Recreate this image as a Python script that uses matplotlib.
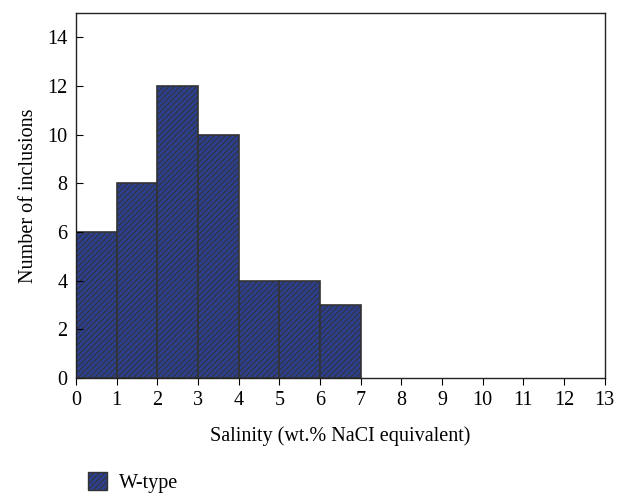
import numpy as np
import matplotlib.pyplot as plt
from matplotlib.patches import Patch

plt.rcParams['font.family'] = ['Liberation Serif', 'DejaVu Serif']
plt.rcParams['hatch.color'] = '#8c8c8c'
plt.rcParams['hatch.linewidth'] = 0.7

# Salinity bins (wt.% NaCl equiv.) and counts
bin_left = [0, 1, 2, 3, 4, 5, 6]
counts = [6, 8, 12, 10, 4, 4, 3]

fig = plt.figure(figsize=(6.28, 5.01), dpi=100)
ax = fig.add_axes([0.121, 0.2455, 0.842, 0.7285])

ax.bar(bin_left, counts, width=1, align='edge', color='#2c3f8c',
       edgecolor='#333333', linewidth=1.2, hatch='//////')

ax.set_xlim(0, 13)
ax.set_ylim(0, 15)
ax.set_xticks(np.arange(0, 14))
ax.set_yticks(np.arange(0, 15, 2))
ax.tick_params(axis='x', direction='out', length=5, labelsize=14.5, top=False, pad=4)
ax.tick_params(axis='y', direction='in', length=5, labelsize=14.5, right=False, pad=6)
for s in ax.spines.values():
    s.set_color('#222222')
    s.set_linewidth(1.0)

ax.set_xlabel('Salinity (wt.% NaCI equivalent)', fontsize=14.5, labelpad=12)
ax.set_ylabel('Number of inclusions', fontsize=14.5, labelpad=7)

handle = Patch(facecolor='#2c3f8c', edgecolor='#333333', hatch='//////', label='W-type')
fig.legend(handles=[handle], loc='lower left', bbox_to_anchor=(0.112, -0.02),
           frameon=False, fontsize=14.5, handlelength=0.9, handleheight=1.0,
           handletextpad=0.6)

fig.savefig('out.png', dpi=100)
